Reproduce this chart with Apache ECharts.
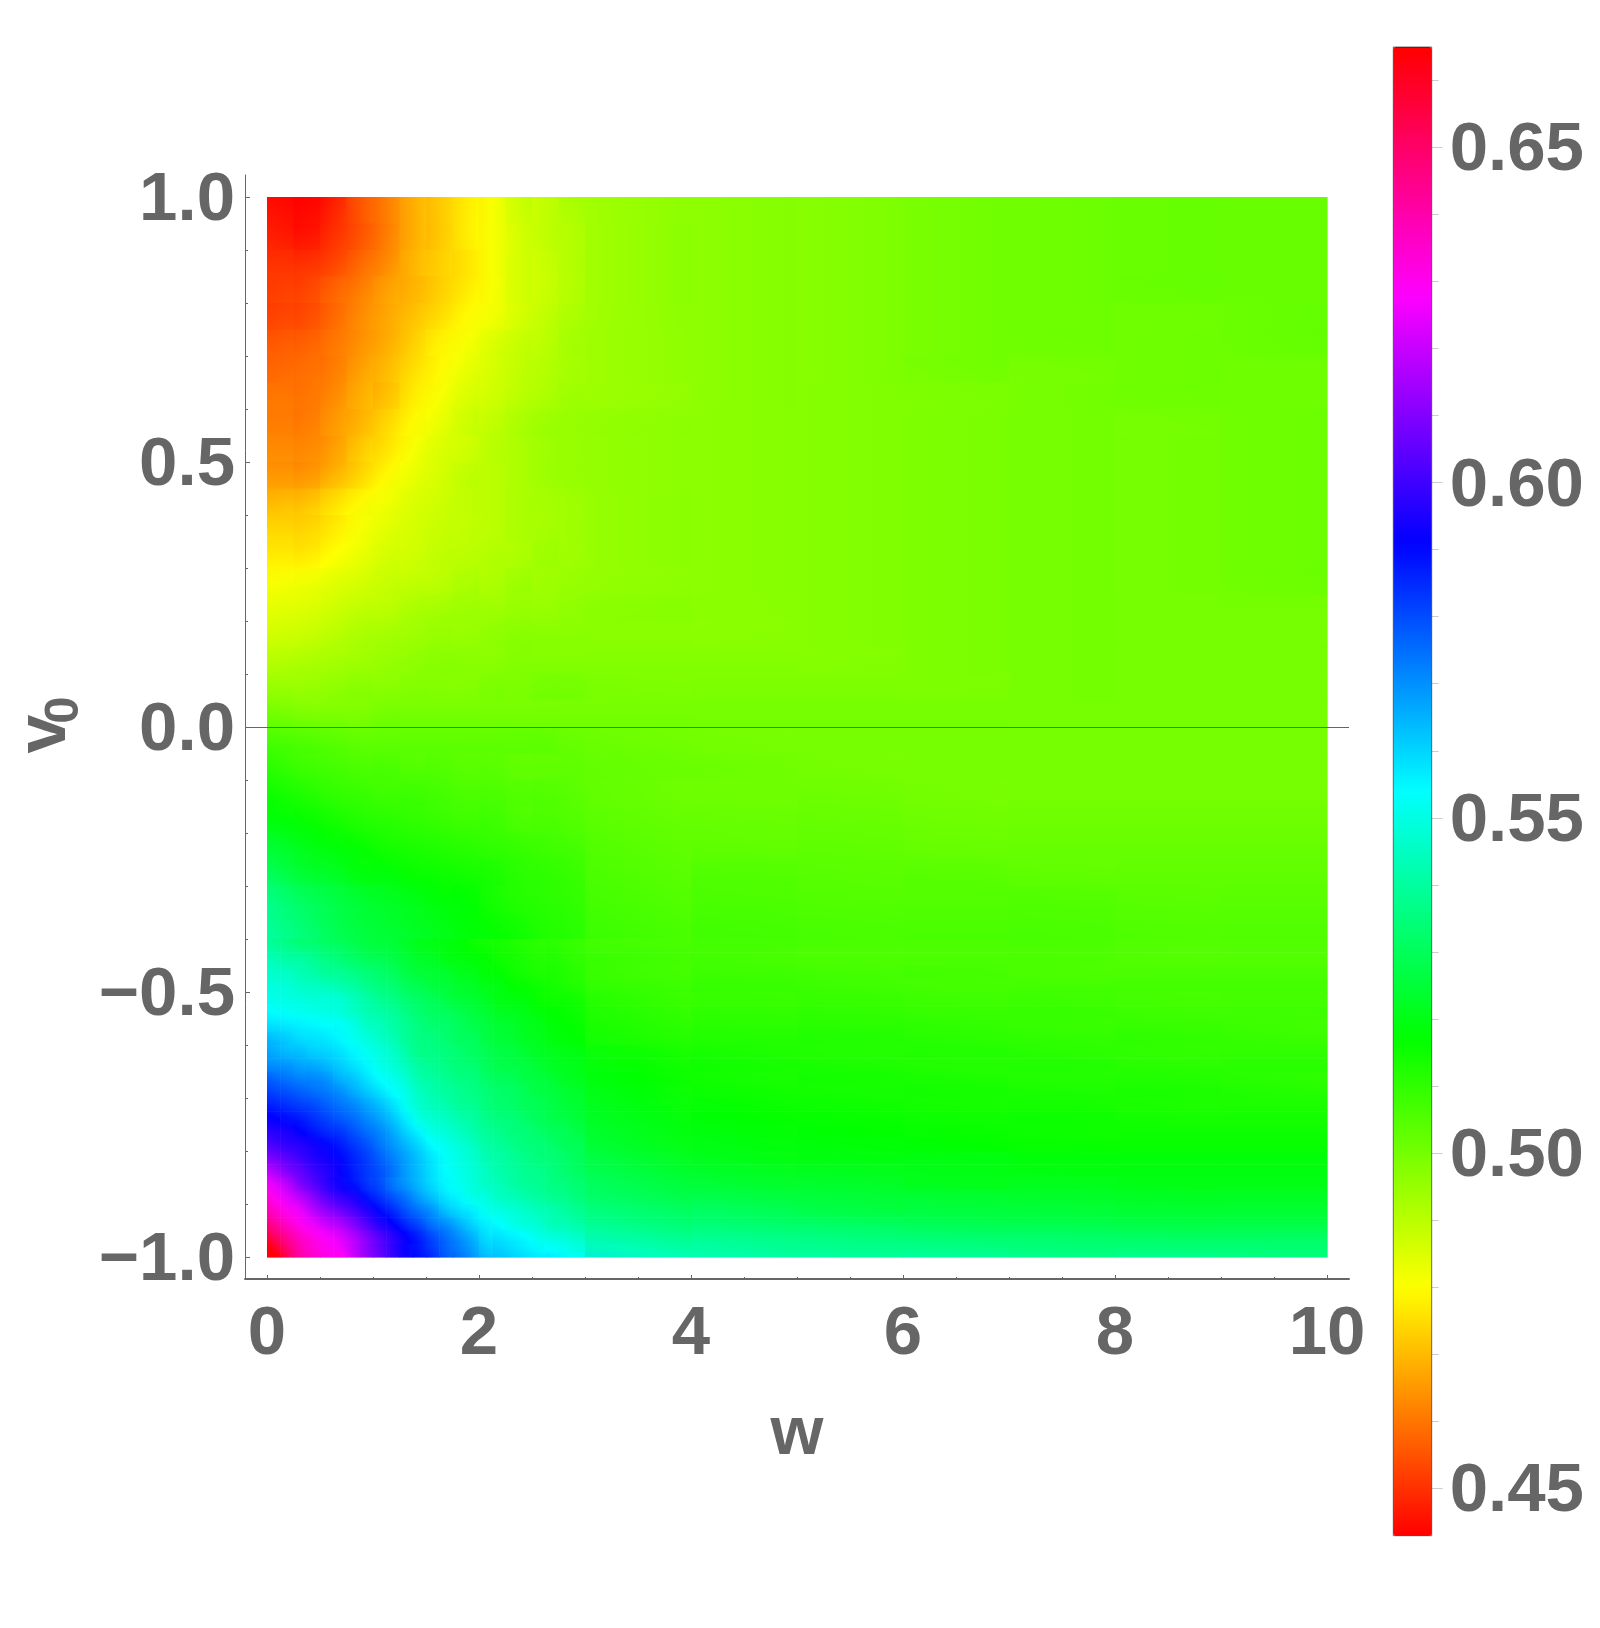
<!DOCTYPE html>
<html>
<head>
<meta charset="utf-8">
<title>w - v0</title>
<script src="https://cdn.jsdelivr.net/npm/echarts@6/dist/echarts.min.js"></script>
<style>
html,body{margin:0;padding:0;background:#fff;}
#main{width:1600px;height:1628px;}
</style>
</head>
<body>
<div id="main"></div>
<script>
// cell edges, upper part of the plot (v from 1 to -0.4)
var upperW = [0,.25,.5,.75,1,1.25,1.5,1.75,2,2.25,2.5,2.75,3,4,5,6,7,8,9,10];
var upperV = [1,.95,.9,.85,.8,.75,.7,.65,.6,.55,.5,.45,.4,.35,.3,.25,.2,.15,.1,.05,0,-.05,-.1,-.15,-.2,-.25,-.3,-.35,-.4];
// cell edges, lower part (finer, the corner has more detail)
var lowerW = [0,.125,.25,.375,.5,.625,.75,.875,1,1.125,1.25,1.375,1.5,1.625,1.75,1.875,2,2.125,2.25,2.375,2.5,2.625,2.75,2.875,3,4,5,6,7,8,9,10];
var lowerV = [-.4,-.425,-.45,-.475,-.5,-.525,-.55,-.575,-.6,-.625,-.65,-.675,-.7,-.725,-.75,-.775,-.8,-.825,-.85,-.875,-.9,-.925,-.95,-.975,-1];

// values, in thousandths, one row per v band
var upperRows = [
[445,444,448,455,461,468,472,477,481,487,489,492,495,497,498,500,501,502,502],
[447,446,450,455,461,468,472,477,481,486,489,491,495,497,498,500,501,502,502],
[450,450,453,458,463,469,473,476,481,486,488,491,495,497,498,500,501,502,502],
[452,453,457,461,466,469,473,477,481,486,488,491,495,497,498,500,501,502,502],
[453,454,458,463,467,471,475,479,482,486,489,492,495,497,498,500,501,501,502],
[456,457,460,464,468,473,478,481,485,488,490,493,495,497,498,500,501,501,502],
[458,459,461,466,470,475,479,483,486,489,491,493,495,497,498,500,500,501,501],
[460,460,463,468,471,477,481,485,487,490,492,494,495,497,498,499,500,501,501],
[461,461,465,469,474,479,483,487,489,492,494,495,496,497,498,499,500,500,501],
[463,463,466,472,476,481,485,487,490,492,494,495,496,497,498,499,500,500,501],
[465,465,469,474,479,483,486,489,490,492,494,495,496,497,498,499,500,500,501],
[470,471,475,479,482,485,487,489,490,492,493,494,496,497,498,499,500,500,501],
[474,474,477,481,484,486,488,489,490,492,493,494,496,497,498,499,500,500,501],
[477,477,480,483,486,487,489,490,491,492,494,494,496,497,498,499,500,500,501],
[481,482,484,486,488,489,490,492,492,494,494,495,496,497,498,499,500,500,501],
[484,485,487,489,490,492,493,494,494,495,495,496,497,497,498,499,500,500,500],
[487,488,490,492,493,494,495,495,496,497,497,497,497,497,498,499,500,500,500],
[491,492,493,494,495,496,497,497,497,498,498,498,498,498,498,499,500,500,500],
[495,495,496,497,497,498,498,498,499,499,500,500,499,499,499,499,500,500,500],
[500,499,499,499,500,500,500,500,500,500,500,500,500,500,500,500,500,500,500],
[506,505,504,503,503,503,503,503,503,503,503,502,501,500,500,500,500,500,500],
[510,508,507,506,506,505,505,504,504,503,503,503,502,501,500,500,500,500,500],
[514,512,510,509,508,508,507,506,506,505,505,504,502,501,501,500,500,500,500],
[518,516,514,512,511,510,509,508,508,506,506,505,503,502,502,501,501,501,501],
[523,520,518,516,514,513,512,511,510,509,508,507,504,503,503,502,502,502,502],
[528,524,522,519,518,516,515,514,513,511,510,509,505,505,504,504,503,503,503],
[534,530,527,524,522,520,518,517,514,512,511,510,506,506,505,505,505,504,504],
[537,533,529,526,524,522,520,518,516,514,512,511,507,507,506,506,506,505,505]
];
var lowerRows = [
[539,537,535,534,532,531,529,527,526,525,523,521,520,519,518,516,515,514,513,512,511,511,510,509,507,507,506,506,506,505,505],
[543,541,540,538,536,534,532,530,529,527,525,523,522,520,519,518,517,515,514,513,512,512,511,510,508,507,506,506,506,505,505],
[546,545,543,541,539,538,536,534,532,530,527,525,524,523,521,520,518,517,515,514,513,513,512,511,508,508,507,507,506,506,506],
[549,548,546,545,544,542,540,537,535,533,530,528,526,525,523,522,520,519,517,516,515,514,513,512,509,509,508,507,507,507,507],
[551,550,549,548,548,547,544,541,538,536,533,531,529,527,525,524,522,520,519,518,516,515,515,514,510,509,509,508,508,507,507],
[554,553,552,551,550,549,546,543,541,539,536,533,531,530,528,526,524,522,521,520,518,517,516,515,511,510,510,509,509,508,508],
[558,557,556,555,554,553,550,546,544,541,538,535,533,532,530,528,526,524,523,521,520,518,517,516,512,511,511,510,509,509,508],
[563,561,559,558,557,555,552,549,546,543,539,536,535,533,531,530,527,525,524,522,521,519,518,517,513,512,512,511,510,510,509],
[566,564,563,561,560,558,555,552,549,546,541,537,536,535,533,531,529,527,526,524,522,521,520,519,515,513,512,512,511,510,510],
[570,569,567,566,564,561,558,555,551,548,544,540,538,536,534,533,530,528,527,526,524,522,521,520,516,514,513,512,512,511,511],
[576,574,572,571,569,565,562,558,554,551,547,542,540,538,536,535,532,530,529,527,526,524,522,521,517,514,514,513,512,512,511],
[581,579,577,575,573,570,566,562,558,554,550,545,542,540,538,536,534,532,531,529,527,526,524,523,518,515,514,514,513,513,512],
[586,584,582,580,577,574,571,567,563,558,552,547,544,542,539,538,535,533,532,530,529,527,525,524,519,516,515,514,514,513,513],
[591,589,587,584,581,578,575,571,567,562,556,550,547,545,542,540,537,535,534,532,530,528,527,525,520,517,516,515,515,514,514],
[596,594,591,588,585,583,579,575,571,566,560,555,550,548,545,542,539,537,535,534,532,530,529,527,521,518,517,516,515,515,515],
[601,598,596,593,590,587,583,579,574,569,564,559,554,551,548,545,541,539,537,535,534,532,530,529,522,519,518,517,516,516,516],
[608,604,600,596,593,590,586,582,577,572,567,562,557,553,550,547,543,541,539,537,535,534,532,530,524,520,519,519,518,518,518],
[616,610,605,600,596,592,587,583,579,574,568,563,558,554,551,548,545,542,540,538,537,535,533,531,526,522,521,520,519,519,519],
[624,618,610,604,598,593,589,584,580,574,569,564,559,555,552,549,546,544,541,539,538,536,535,533,528,524,523,521,521,520,520],
[630,624,618,611,604,599,595,589,584,579,574,568,563,558,555,551,549,546,544,542,540,538,537,535,530,527,525,524,523,522,522],
[636,630,625,618,612,607,602,596,590,585,579,574,569,563,559,556,552,550,548,546,544,542,540,538,533,530,527,526,525,524,524],
[643,636,630,625,620,616,610,603,596,591,585,580,574,570,565,560,556,554,551,549,547,544,543,541,536,533,531,529,528,527,527],
[652,643,636,631,627,623,617,610,603,597,591,586,580,575,570,565,559,558,556,554,551,549,548,546,540,537,535,533,532,531,531],
[663,650,640,634,630,627,620,612,605,598,592,588,583,577,573,568,562,561,559,557,555,554,552,550,544,540,538,537,535,535,534]
];

var xMajorTicks = [0,2,4,6,8,10];
var xMinorTicks = [.5,1,1.5,2.5,3,3.5,4.5,5,5.5,6.5,7,7.5,8.5,9,9.5];
var yMajorTicks = [-1,-.5,0,.5,1];
var yMinorTicks = [-.9,-.8,-.7,-.6,-.4,-.3,-.2,-.1,.1,.2,.3,.4,.6,.7,.8,.9];
var barMajorTicks = [.45,.5,.55,.6,.65];
var barMinorTicks = [.46,.47,.48,.49,.51,.52,.53,.54,.56,.57,.58,.59,.61,.62,.63,.64,.66];
var barMin = .44293, barMax = .66496;
var hueColors = ['#ff0000','#ffff00','#00ff00','#00ffff','#0000ff','#ff00ff','#ff0000'];

var TEXT_GRAY = '#666666';
var FONT = '"Liberation Sans", Arial, sans-serif';

function hueOf(val) {
    var t = (val - barMin) / (barMax - barMin);
    return echarts.color.lerp(Math.max(0, Math.min(1, t)), hueColors);
}

//build cells [w0,w1,v0,v1,value,slope along w,slope along v]; the slopes only orient the fill of a cell
function addCells(cells, wEdges, vEdges, rows) {
    function wMid(c) { return (wEdges[c] + wEdges[c + 1]) / 2; }
    function vMid(r) { return (vEdges[r] + vEdges[r + 1]) / 2; }
    for (var r = 0; r < rows.length; r++) {
        for (var c = 0; c < rows[r].length; c++) {
            var cl = Math.max(c - 1, 0), cr = Math.min(c + 1, rows[r].length - 1);
            var ru = Math.max(r - 1, 0), rd = Math.min(r + 1, rows.length - 1);
            var gw = (rows[r][cr] - rows[r][cl]) / 1000 / (wMid(cr) - wMid(cl));
            var gv = (rows[rd][c] - rows[ru][c]) / 1000 / (vMid(rd) - vMid(ru));
            cells.push([wEdges[c], wEdges[c + 1], vEdges[r], vEdges[r + 1], rows[r][c] / 1000, gw, gv]);
        }
    }
}
var cells = [];
addCells(cells, upperW, upperV, upperRows);
addCells(cells, lowerW, lowerV, lowerRows);

function renderCell(params, api) {
    var w0 = api.value(0), w1 = api.value(1), v0 = api.value(2), v1 = api.value(3), val = api.value(4);
    var p0 = api.coord([w0, v0]);
    var p1 = api.coord([w1, v1]);
    var cx = (p0[0] + p1[0]) / 2, cy = (p0[1] + p1[1]) / 2;
    var gx = api.value(5) * (w1 - w0) / (p1[0] - p0[0]);
    var gy = api.value(6) * (v1 - v0) / (p1[1] - p0[1]);
    var mag = Math.sqrt(gx * gx + gy * gy);
    var fill = hueOf(val);
    if (mag > 1e-7) {
        var R = Math.sqrt((p1[0] - p0[0]) * (p1[0] - p0[0]) + (p1[1] - p0[1]) * (p1[1] - p0[1])) / 2;
        var dx = gx / mag * R, dy = gy / mag * R;
        fill = new echarts.graphic.LinearGradient(cx - dx, cy - dy, cx + dx, cy + dy, [
            {offset: 0, color: hueOf(val - mag * R)},
            {offset: .5, color: hueOf(val)},
            {offset: 1, color: hueOf(val + mag * R)}
        ], true);
    }
    return {
        type: 'rect',
        shape: {x: p0[0], y: p0[1], width: p1[0] - p0[0] + .6, height: p1[1] - p0[1] + .6},
        style: {fill: fill, stroke: null}
    };
}

function numAxis(extra) {
    var o = {
        type: 'value',
        scale: true,
        splitLine: {show: false},
        axisLine: {show: false, onZero: false},
        axisTick: {show: false},
        axisLabel: {show: false}
    };
    for (var k in extra) o[k] = extra[k];
    return o;
}
var labelStyle = {fontFamily: FONT, fontWeight: 'bold', fontSize: 68, color: TEXT_GRAY};
// rich label, the top padding moves the digits down onto their tick
var tickText = {fontFamily: FONT, fontWeight: 'bold', fontSize: 69, color: TEXT_GRAY, padding: [8, 0, 0, 0]};

var option = {
    backgroundColor: '#fff',
    animation: false,
    grid: [
        {left: 245, top: 175, width: 1104, height: 1104, outerBoundsMode: 'none'},
        {left: 1393.3, top: 47, width: 38.4, height: 1488.7, show: true, z: 10, outerBoundsMode: 'none',
            backgroundColor: 'transparent', borderColor: 'rgba(0,0,0,.55)', borderWidth: 1}
    ],
    graphic: [
        {type: 'text', x: 46, y: 734, rotation: Math.PI / 2, z: 10,
            style: {text: 'v', font: 'bold 70px ' + FONT, fill: TEXT_GRAY, align: 'center', verticalAlign: 'middle'}},
        {type: 'text', x: 64, y: 710, rotation: Math.PI / 2, z: 10,
            style: {text: '0', font: 'bold 49px ' + FONT, fill: TEXT_GRAY, align: 'center', verticalAlign: 'middle'}}
    ],
    xAxis: [
        numAxis({gridIndex: 0, min: -.2075, max: 10.2075, position: 'bottom',
            name: 'w', nameLocation: 'middle', nameGap: 122,
            nameTextStyle: labelStyle,
            axisLine: {show: true, onZero: false, lineStyle: {color: TEXT_GRAY, width: 2}},
            axisTick: {show: true, inside: true, length: 4, customValues: xMajorTicks, lineStyle: {color: TEXT_GRAY, width: 1}},
            axisLabel: {show: true, margin: 21, customValues: xMajorTicks, fontFamily: FONT, fontWeight: 'bold', fontSize: 69, color: TEXT_GRAY}
        }),
        numAxis({gridIndex: 0, min: -.2075, max: 10.2075, position: 'bottom',
            axisTick: {show: true, inside: true, length: 2, customValues: xMinorTicks, lineStyle: {color: TEXT_GRAY, width: 1}}
        }),
        numAxis({gridIndex: 1, min: 0, max: 1, show: false})
    ],
    yAxis: [
        numAxis({gridIndex: 0, min: -1.0415, max: 1.0415, position: 'left',
            axisLine: {show: true, onZero: false, lineStyle: {color: TEXT_GRAY, width: 1}},
            axisTick: {show: true, inside: true, length: 5, customValues: yMajorTicks, lineStyle: {color: TEXT_GRAY, width: 1}},
            axisLabel: {show: true, margin: 10, customValues: yMajorTicks, rich: {a: tickText},
                formatter: function (val) {
                    return '{a|' + (val < 0 ? '\u2212' : '') + Math.abs(val).toFixed(1) + '}';
                }}
        }),
        numAxis({gridIndex: 0, min: -1.0415, max: 1.0415, position: 'left',
            axisTick: {show: true, inside: true, length: 3, customValues: yMinorTicks, lineStyle: {color: TEXT_GRAY, width: 1}}
        }),
        numAxis({gridIndex: 1, min: barMin, max: barMax, position: 'right',
            axisTick: {show: true, length: 11, customValues: barMajorTicks, lineStyle: {color: '#cccccc', width: 1}},
            axisLabel: {show: true, margin: 18, customValues: barMajorTicks, rich: {a: tickText},
                formatter: function (val) {
                    return '{a|' + val.toFixed(2) + '}';
                }}
        }),
        numAxis({gridIndex: 1, min: barMin, max: barMax, position: 'right',
            axisTick: {show: true, length: 7, customValues: barMinorTicks, lineStyle: {color: '#cccccc', width: 1}}
        })
    ],
    visualMap: {
        type: 'continuous',
        seriesIndex: 0,
        dimension: 4,
        min: barMin,
        max: barMax,
        calculable: false,
        hoverLink: false,
        left: 1393.3,
        top: 47,
        padding: 0,
        itemWidth: 38.4,
        itemHeight: 1488.7,
        text: null,
        inRange: {color: hueColors}
    },
    series: [{
        type: 'custom',
        xAxisIndex: 0,
        yAxisIndex: 0,
        silent: true,
        clip: false,
        renderItem: renderCell,
        encode: {x: [0, 1], y: [2, 3]},
        data: cells,
        markLine: {
            silent: true,
            symbol: 'none',
            label: {show: false},
            lineStyle: {color: TEXT_GRAY, width: 1, type: 'solid'},
            data: [{yAxis: 0}]
        }
    }]
};

var myChart = echarts.init(document.getElementById('main'), null, {renderer: 'canvas'});
myChart.setOption(option);
</script>
</body>
</html>
